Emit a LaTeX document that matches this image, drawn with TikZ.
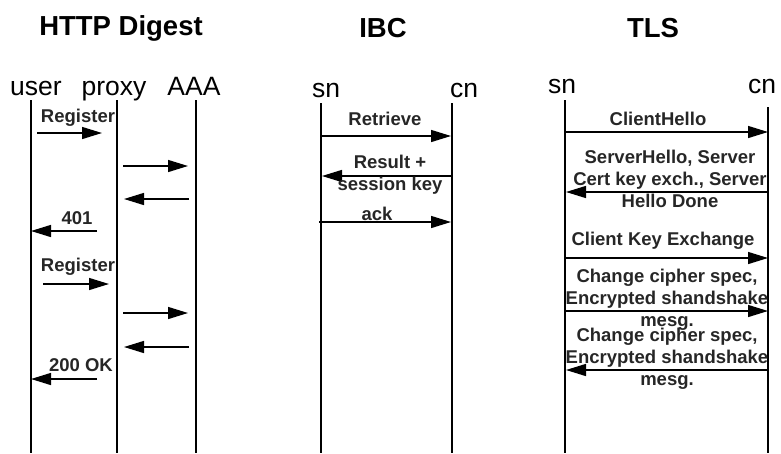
\documentclass[tikz,border=0pt]{standalone}
\usepackage{fontspec}
\setmainfont{Liberation Sans}
\usetikzlibrary{arrows.meta}
\begin{document}
\begin{tikzpicture}[x=1pt,y=-1pt,
  life/.style={line width=1.3pt},
  msg/.style={line width=1.4pt,-{Triangle[length=20pt,width=12pt]}},
  ttl/.style={font=\fontsize{27.5}{32}\selectfont\bfseries},
  actor/.style={font=\fontsize{26.5}{30}\selectfont,anchor=base,inner sep=0pt},
  lbl/.style={font=\fontsize{18.5}{22}\selectfont\bfseries,align=center,inner sep=0pt,text=black!85}]
\useasboundingbox (0,0) rectangle (781,453);
% titles
\node[ttl] (t1) at (121,28) {HTTP Digest};
\node[ttl] (t2) at (383,28) {IBC};
\node[ttl] (t3) at (653,28) {TLS};
% actors
\node[actor] (user) at (36,95) {user};
\node[actor] (proxy) at (114,95) {proxy};
\node[actor] (aaa) at (194,95) {AAA};
\node[actor] (isn) at (326,97) {sn};
\node[actor] (icn) at (464,97) {cn};
\node[actor] (tsn) at (562,93) {sn};
\node[actor] (tcn) at (762,93) {cn};
% lifelines
\draw[life] (31,100) -- (31,453);
\draw[life] (117,100) -- (117,453);
\draw[life] (196,100) -- (196,453);
\draw[life] (321,103) -- (321,453);
\draw[life] (452,103) -- (452,453);
\draw[life] (565,100) -- (565,453);
\draw[life] (768,107) -- (768,453);
% HTTP messages
\coordinate (m1a) at (37,133);  \coordinate (m1b) at (102,133);
\coordinate (m2a) at (123,166); \coordinate (m2b) at (188,166);
\coordinate (m3a) at (189,199); \coordinate (m3b) at (124,199);
\coordinate (m4a) at (97,231);  \coordinate (m4b) at (31,231);
\coordinate (m5a) at (43,284);  \coordinate (m5b) at (109,284);
\coordinate (m6a) at (123,313); \coordinate (m6b) at (188,313);
\coordinate (m7a) at (189,347); \coordinate (m7b) at (124,347);
\coordinate (m8a) at (97,379);  \coordinate (m8b) at (31,379);
\draw[msg] (m1a) -- (m1b);
\draw[msg] (m2a) -- (m2b);
\draw[msg] (m3a) -- (m3b);
\draw[msg] (m4a) -- (m4b);
\draw[msg] (m5a) -- (m5b);
\draw[msg] (m6a) -- (m6b);
\draw[msg] (m7a) -- (m7b);
\draw[msg] (m8a) -- (m8b);
\node[lbl] (l1) at (78,118) {Register};
\node[lbl] (l4) at (77,218) {401};
\node[lbl] (l5) at (78,267) {Register};
\node[lbl] (l8) at (81,365) {200 OK};
% IBC messages
\coordinate (i1a) at (321,136); \coordinate (i1b) at (451,136);
\coordinate (i2a) at (452,176); \coordinate (i2b) at (322,176);
\coordinate (i3a) at (319,222); \coordinate (i3b) at (451,222);
\draw[msg] (i1a) -- (i1b);
\draw[msg] (i2a) -- (i2b);
\draw[msg] (i3a) -- (i3b);
\node[lbl] (il1) at (385,119) {Retrieve};
\node[lbl] (il2) at (390,175) {Result +\\session key};
\node[lbl] (il3) at (377,214) {ack};
% TLS messages
\coordinate (s1a) at (565,132); \coordinate (s1b) at (768,132);
\coordinate (s2a) at (768,192); \coordinate (s2b) at (566,192);
\coordinate (s3a) at (565,258); \coordinate (s3b) at (768,258);
\coordinate (s4a) at (565,311); \coordinate (s4b) at (768,311);
\coordinate (s5a) at (768,370); \coordinate (s5b) at (566,370);
\draw[msg] (s1a) -- (s1b);
\draw[msg] (s2a) -- (s2b);
\draw[msg] (s3a) -- (s3b);
\draw[msg] (s4a) -- (s4b);
\draw[msg] (s5a) -- (s5b);
\node[lbl] (sl1) at (658,119) {ClientHello};
\node[lbl] (sl2) at (670,179) {ServerHello, Server\\Cert key exch., Server\\Hello Done};
\node[lbl] (sl3) at (663,241) {Client Key Exchange};
\node[lbl] (sl4) at (667,300) {Change cipher spec,\\Encrypted shandshake\\mesg.};
\node[lbl] (sl5) at (667,359) {Change cipher spec,\\Encrypted shandshake\\mesg.};
\end{tikzpicture}
\end{document}
